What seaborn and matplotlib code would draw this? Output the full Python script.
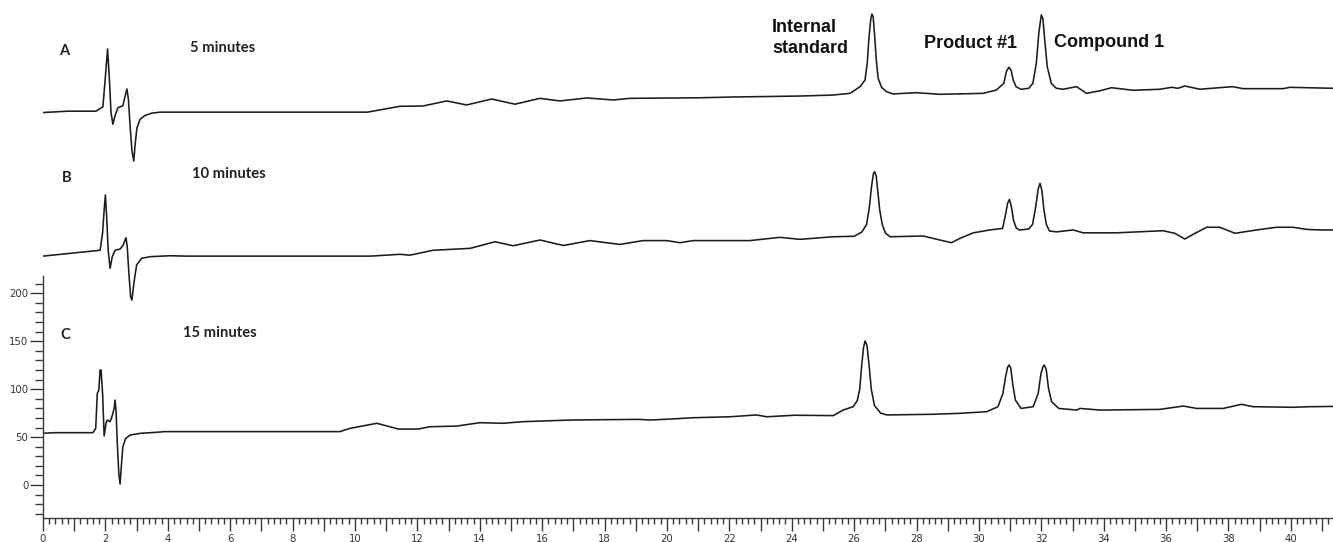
import matplotlib
matplotlib.use("Agg")
import matplotlib.pyplot as plt
from matplotlib.ticker import MultipleLocator, FixedLocator, FuncFormatter
import seaborn as sns
import pandas as pd

# ---------------- data ----------------
time_a = [0, 0.8, 1.7, 1.92, 1.99, 2.07, 2.13, 2.18, 2.24, 2.31, 2.40, 2.56, 2.64, 2.69, 2.74,
          2.79, 2.85, 2.91, 2.95, 3.01, 3.11, 3.27, 3.49, 3.75, 10.4, 11.44, 12.18, 12.94, 13.58,
          14.38, 15.13, 15.93, 16.57, 17.43, 18.28, 18.81, 21.06, 22.1, 24.26, 25.3, 25.87,
          26.19, 26.35, 26.42, 26.47, 26.53, 26.57, 26.61, 26.66, 26.71, 26.77, 26.88, 27.04,
          27.25, 28.0, 28.75, 30.14, 30.56, 30.8, 30.88, 30.96, 31.03, 31.1, 31.19, 31.35, 31.6,
          31.73, 31.84, 31.92, 32.0, 32.05, 32.11, 32.19, 32.32, 32.48, 32.7, 33.13, 33.45, 33.88,
          34.25, 34.94, 35.8, 36.18, 36.38, 36.6, 37.08, 38.13, 38.47, 39.75, 39.97, 40.93, 41.35]
signal_a = [388.6, 390, 390, 394.6, 422, 454.9, 422, 388.6, 376.4, 385.5, 393.6, 395.7, 406.8,
            413.2, 401.7, 375.4, 349.1, 338, 354.2, 372.4, 381.5, 385.5, 388, 389, 389, 395.1,
            395.4, 400.7, 396.5, 402.7, 397.3, 403.4, 400.7, 403.8, 401.7, 403.4, 404, 404.8,
            405.8, 406.8, 408.6, 415.6, 422.5, 440, 464.3, 485.1, 491.4, 488.6, 467.7, 443.4,
            424.3, 414.9, 410.3, 408, 409.3, 407.6, 408.6, 412.1, 419.1, 431.3, 435.8, 433, 422.5,
            415.6, 412.8, 413.9, 419.1, 440, 471.3, 490.4, 486.9, 464.3, 436.4, 419.1, 413.9,
            412.9, 415.6, 408.6, 411.3, 414.5, 411.8, 412.9, 414.9, 413.9, 416.3, 412.9, 415.6,
            413.5, 413.5, 414.9, 414.2, 413.9]

time_b = [0, 1.83, 1.91, 1.96, 2.0, 2.04, 2.09, 2.15, 2.22, 2.31, 2.47, 2.57, 2.66, 2.70, 2.76,
          2.81, 2.85, 2.92, 3.0, 3.16, 3.43, 4.07, 4.6, 10.5, 11.44, 11.76, 12.5, 13.69, 14.49,
          15.07, 15.93, 16.68, 17.53, 18.49, 19.24, 19.99, 20.42, 20.84, 22.66, 23.62, 24.26,
          25.33, 26.0, 26.25, 26.4, 26.49, 26.56, 26.62, 26.66, 26.71, 26.76, 26.82, 26.9, 27.0,
          27.15, 28.21, 28.75, 29.12, 29.39, 29.82, 30.35, 30.76, 30.84, 30.92, 30.98, 31.04,
          31.11, 31.2, 31.3, 31.6, 31.72, 31.82, 31.9, 31.96, 32.02, 32.08, 32.16, 32.26, 32.49,
          33.02, 33.34, 34.41, 35.9, 36.28, 36.6, 36.87, 37.3, 37.72, 38.21, 38.9, 39.54, 40.07,
          40.5, 40.93, 41.35]
signal_b = [238.8, 244.9, 263.1, 286.9, 302.6, 279.9, 244.9, 226.1, 238.2, 244.9, 246.2, 250.3,
            258, 248.6, 217.4, 196.3, 193, 212.1, 229.5, 236.5, 238.2, 239.2, 238.8, 238.8, 240.7,
            239.8, 244.9, 246.9, 253.8, 249.6, 255.6, 249.9, 255, 251, 255, 255, 252.8, 255, 255,
            258.4, 256.3, 259, 259.5, 264, 272, 290, 312, 325, 326.8, 322, 306, 287, 272, 263,
            259, 259.8, 255.6, 252.8, 257.3, 263.1, 266.1, 267.7, 279.9, 293.9, 298, 290.4, 276,
            268, 266, 267.1, 272, 290, 309, 314.7, 307, 288, 272, 265, 264.1, 266.1, 263.1, 263.1,
            265.3, 262.6, 256.6, 261.6, 268.9, 268.9, 262.6, 266.1, 268.9, 268.9, 266.7, 266.1,
            266.1]

time_c = [0, 0.38, 1.6, 1.69, 1.74, 1.79, 1.83, 1.86, 1.91, 1.96, 2.02, 2.06, 2.15, 2.21, 2.28,
          2.31, 2.34, 2.38, 2.43, 2.47, 2.51, 2.56, 2.65, 2.79, 3.11, 3.59, 3.91, 9.52, 9.84,
          10.7, 11.39, 12.03, 12.4, 13.26, 14.0, 14.75, 15.39, 16.94, 19.08, 19.46, 20.1, 20.84,
          22.02, 22.87, 23.2, 24.1, 25.33, 25.65, 25.97, 26.1, 26.18, 26.24, 26.3, 26.35, 26.41,
          26.48, 26.55, 26.65, 26.85, 27.05, 28.54, 29.39, 30.25, 30.61, 30.77, 30.85, 30.92,
          30.97, 31.02, 31.09, 31.17, 31.35, 31.74, 31.9, 31.99, 32.06, 32.1, 32.16, 32.23,
          32.33, 32.56, 33.13, 33.24, 33.88, 35.8, 36.55, 36.98, 37.83, 38.42, 38.79, 40.07,
          40.61, 41.35]
signal_c = [54, 54.6, 54.6, 59.1, 95.6, 99.2, 120, 120, 95.6, 51.1, 64.4, 67.8, 66.1, 71.2, 79.9,
            88.6, 78.2, 45.1, 12.1, 1, 19.1, 40, 48.6, 52.1, 53.9, 54.9, 55.7, 55.7, 59.1, 64.4,
            58.4, 58.4, 60.8, 61.5, 65, 64.4, 66.1, 67.8, 68.5, 67.8, 68.8, 70.2, 71.2, 73.1, 71.2,
            72.8, 72.4, 78.2, 81.7, 88, 100, 124, 143, 150.3, 146, 125, 100, 83, 75, 73.1, 73.8,
            74.8, 76.5, 81.7, 95.6, 112, 123, 125.2, 122, 104, 88.6, 79.9, 81.7, 95.6, 116.4,
            124, 125.2, 120, 101, 86.9, 79.9, 78.2, 79.9, 78.2, 78.9, 82.4, 79.9, 79.9, 84.2,
            81.7, 81.1, 81.7, 82]

trace_letters = ["A", "B", "C"]
trace_times = ["5 minutes", "10 minutes", "15 minutes"]
peak_names = ["Internal", "standard", "Product #1", "Compound 1"]

# ---------------- plotting ----------------
sns.set_style("white")
W, H = 1333, 542
fig = plt.figure(figsize=(W / 100, H / 100), dpi=100)
ax = fig.add_axes([43 / W, 24.3 / H, 1 - 43 / W, 1 - 24.3 / H])

line_color = "#1c1c1c"
for t, s in [(time_a, signal_a), (time_b, signal_b), (time_c, signal_c)]:
    df = pd.DataFrame({"time": t, "signal": s})
    sns.lineplot(data=df, x="time", y="signal", ax=ax, color=line_color,
                 linewidth=1.15, sort=False, estimator=None,
                 solid_joinstyle="round", solid_capstyle="round")

ax.set_xlim(0, 41.35)
ax.set_ylim(-34.1, 506)
ax.set_xlabel("")
ax.set_ylabel("")

for side in ["top", "right"]:
    ax.spines[side].set_visible(False)
for side in ["left", "bottom"]:
    ax.spines[side].set_color("#3a3a3a")
    ax.spines[side].set_linewidth(1.0)
ax.spines["left"].set_bounds(-34.1, 218)

ax.xaxis.set_major_locator(MultipleLocator(1))
ax.xaxis.set_minor_locator(MultipleLocator(0.2))
ax.xaxis.set_major_formatter(FuncFormatter(
    lambda v, p: f"{int(round(v))}" if int(round(v)) % 2 == 0 else ""))
ax.yaxis.set_major_locator(FixedLocator([0, 50, 100, 150, 200]))
ax.yaxis.set_minor_locator(FixedLocator([-30, -20, -10, 10, 20, 30, 40, 60, 70, 80, 90, 110, 120,
                                         130, 140, 160, 170, 180, 190, 210]))

ax.tick_params(axis="x", which="major", direction="out", length=9.4, width=1.0, color="#3a3a3a",
               labelsize=7.3, labelcolor="#333333", pad=2.5, bottom=True)
ax.tick_params(axis="x", which="minor", direction="out", length=4.3, width=1.0, color="#3a3a3a",
               bottom=True)
ax.tick_params(axis="y", which="major", direction="out", length=9.4, width=1.0, color="#3a3a3a",
               labelsize=7.3, labelcolor="#333333", pad=1.0, left=True)
ax.tick_params(axis="y", which="minor", direction="out", length=5.8, width=1.0, color="#3a3a3a",
               left=True)

# panel labels
lab_font = dict(family=["Lato", "DejaVu Sans"], fontweight="bold", fontsize=10.6, color="#222222")
ax.text(0.52, 448.6, trace_letters[0], ha="left", va="baseline", **lab_font)
ax.text(4.71, 452, trace_times[0], ha="left", va="baseline", **lab_font)
ax.text(0.62, 315.8, trace_letters[1], ha="left", va="baseline", **lab_font)
ax.text(4.77, 320.6, trace_times[1], ha="left", va="baseline", **lab_font)
ax.text(0.56, 152.3, trace_letters[2], ha="left", va="baseline", **lab_font)
ax.text(4.5, 154.7, trace_times[2], ha="left", va="baseline", **lab_font)

# peak annotations
ann_font = dict(family=["Liberation Sans", "DejaVu Sans"], fontweight="bold", fontsize=13,
                color="#111111")
ax.text(23.37, 472.3, peak_names[0], ha="left", va="baseline", **ann_font)
ax.text(23.37, 450.4, peak_names[1], ha="left", va="baseline", **ann_font)
ax.text(28.24, 455.6, peak_names[2], ha="left", va="baseline", **ann_font)
ax.text(32.4, 457.3, peak_names[3], ha="left", va="baseline", **ann_font)

fig.savefig("out.png", dpi=100)
